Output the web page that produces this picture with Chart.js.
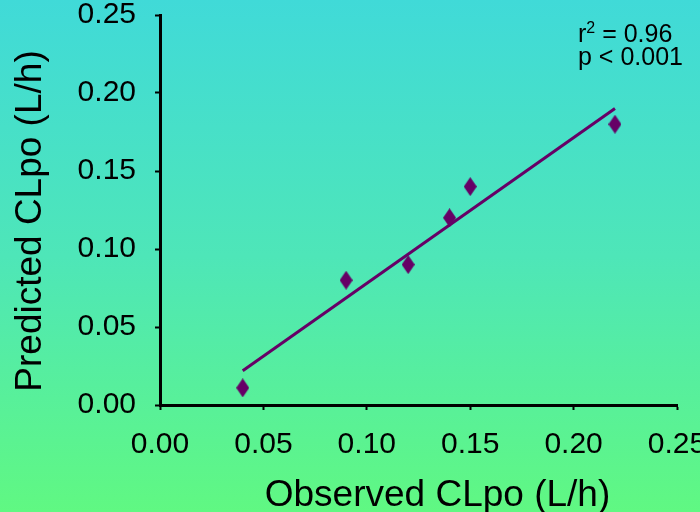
<!DOCTYPE html>
<html>
<head>
<meta charset="utf-8">
<script src="https://cdn.jsdelivr.net/npm/chart.js@4/dist/chart.umd.min.js"></script>
<style>
  html, body { margin: 0; padding: 0; }
  body {
    width: 700px; height: 512px; overflow: hidden;
    background: linear-gradient(to bottom, #40dad8 0%, #4ee6b8 50%, #60f882 100%);
  }
  #wrap { width: 700px; height: 512px; }
</style>
</head>
<body>
<div id="wrap"><canvas id="grafico"></canvas></div>
<script>
// valores
const observed = [0.04, 0.09, 0.12, 0.14, 0.15, 0.22];
const predicted = [0.011, 0.08, 0.09, 0.12, 0.14, 0.18];
// linha de regressão (extremos)
const fitX = [0.04, 0.22];
const fitY = [0.022, 0.19];
const axisMin = 0, axisMax = 0.25, axisStep = 0.05;
const xTitle = 'Observed CLpo (L/h)';
const yTitle = 'Predicted CLpo (L/h)';
const statLines = ['= 0.96', 'p < 0.001'];

const purple = '#660066';
const fontFam = '"Liberation Sans", Arial, sans-serif';

// losango mais alto que largo
const diamond = document.createElement('canvas');
diamond.width = 13;
diamond.height = 19;
const dctx = diamond.getContext('2d');
dctx.fillStyle = purple;
dctx.beginPath();
dctx.moveTo(6.5, 0);
dctx.lineTo(13, 9.5);
dctx.lineTo(6.5, 19);
dctx.lineTo(0, 9.5);
dctx.closePath();
dctx.fill();

// títulos dos eixos e texto r²/p (deslocados como no original)
const extraText = {
  id: 'extraText',
  afterDraw(chart) {
    const ctx = chart.ctx;
    const area = chart.chartArea;
    ctx.save();
    ctx.fillStyle = '#000';
    ctx.textBaseline = 'alphabetic';

    ctx.font = '37px ' + fontFam;
    ctx.textAlign = 'center';
    ctx.fillText(xTitle, (area.left + area.right) / 2 + 19, area.bottom + 101);
    ctx.save();
    ctx.translate(area.left - 119, (area.top + area.bottom) / 2 + 11);
    ctx.rotate(-Math.PI / 2);
    ctx.fillText(yTitle, 0, 0);
    ctx.restore();

    const x = area.right - 99;
    const y = area.top + 27;
    ctx.textAlign = 'left';
    ctx.font = '25px ' + fontFam;
    ctx.fillText('r', x, y);
    const rw = ctx.measureText('r').width;
    ctx.font = '16px ' + fontFam;
    ctx.fillText('2', x + rw, y - 9);
    const sw = ctx.measureText('2').width;
    ctx.font = '25px ' + fontFam;
    ctx.fillText(' ' + statLines[0], x + rw + sw, y);
    ctx.fillText(statLines[1], x, y + 23);
    ctx.restore();
  }
};

const tickFmt = v => Number(v).toFixed(2);

new Chart(document.getElementById('grafico'), {
  type: 'scatter',
  data: {
    datasets: [{
      label: 'Observado vs Predito',
      data: observed.map((v, i) => ({ x: v, y: predicted[i] })),
      pointStyle: diamond,
      pointRadius: 8,
      pointHoverRadius: 8
    }, {
      label: 'Regressão',
      data: fitX.map((v, i) => ({ x: v, y: fitY[i] })),
      showLine: true,
      borderColor: purple,
      borderWidth: 3,
      pointRadius: 0,
      fill: false
    }]
  },
  options: {
    responsive: true,
    maintainAspectRatio: false,
    animation: false,
    layout: { padding: { top: 15, right: 23, left: 0, bottom: 0 } },
    plugins: {
      legend: { display: false },
      tooltip: { enabled: false }
    },
    scales: {
      x: {
        type: 'linear',
        min: axisMin,
        max: axisMax,
        border: { display: true, color: '#000', width: 3 },
        grid: { display: true, drawOnChartArea: false, drawTicks: true, tickLength: 5, tickColor: '#000', tickWidth: 2 },
        ticks: {
          stepSize: axisStep,
          color: '#000',
          padding: 20,
          maxRotation: 0,
          font: { family: fontFam, size: 30, lineHeight: 1 },
          callback: tickFmt
        },
        afterFit(scale) {
          scale.height = 107;
          scale.paddingLeft = 0;
          scale.paddingRight = 0;
        }
      },
      y: {
        min: axisMin,
        max: axisMax,
        border: { display: true, color: '#000', width: 3 },
        grid: { display: true, drawOnChartArea: false, drawTicks: true, tickLength: 5, tickColor: '#000', tickWidth: 2 },
        ticks: {
          stepSize: axisStep,
          color: '#000',
          padding: 19,
          font: { family: fontFam, size: 30, lineHeight: 1 },
          callback: tickFmt
        },
        afterFit(scale) {
          scale.width = 160;
          scale.paddingTop = 0;
          scale.paddingBottom = 0;
        }
      }
    }
  },
  plugins: [extraText]
});
</script>
</body>
</html>
